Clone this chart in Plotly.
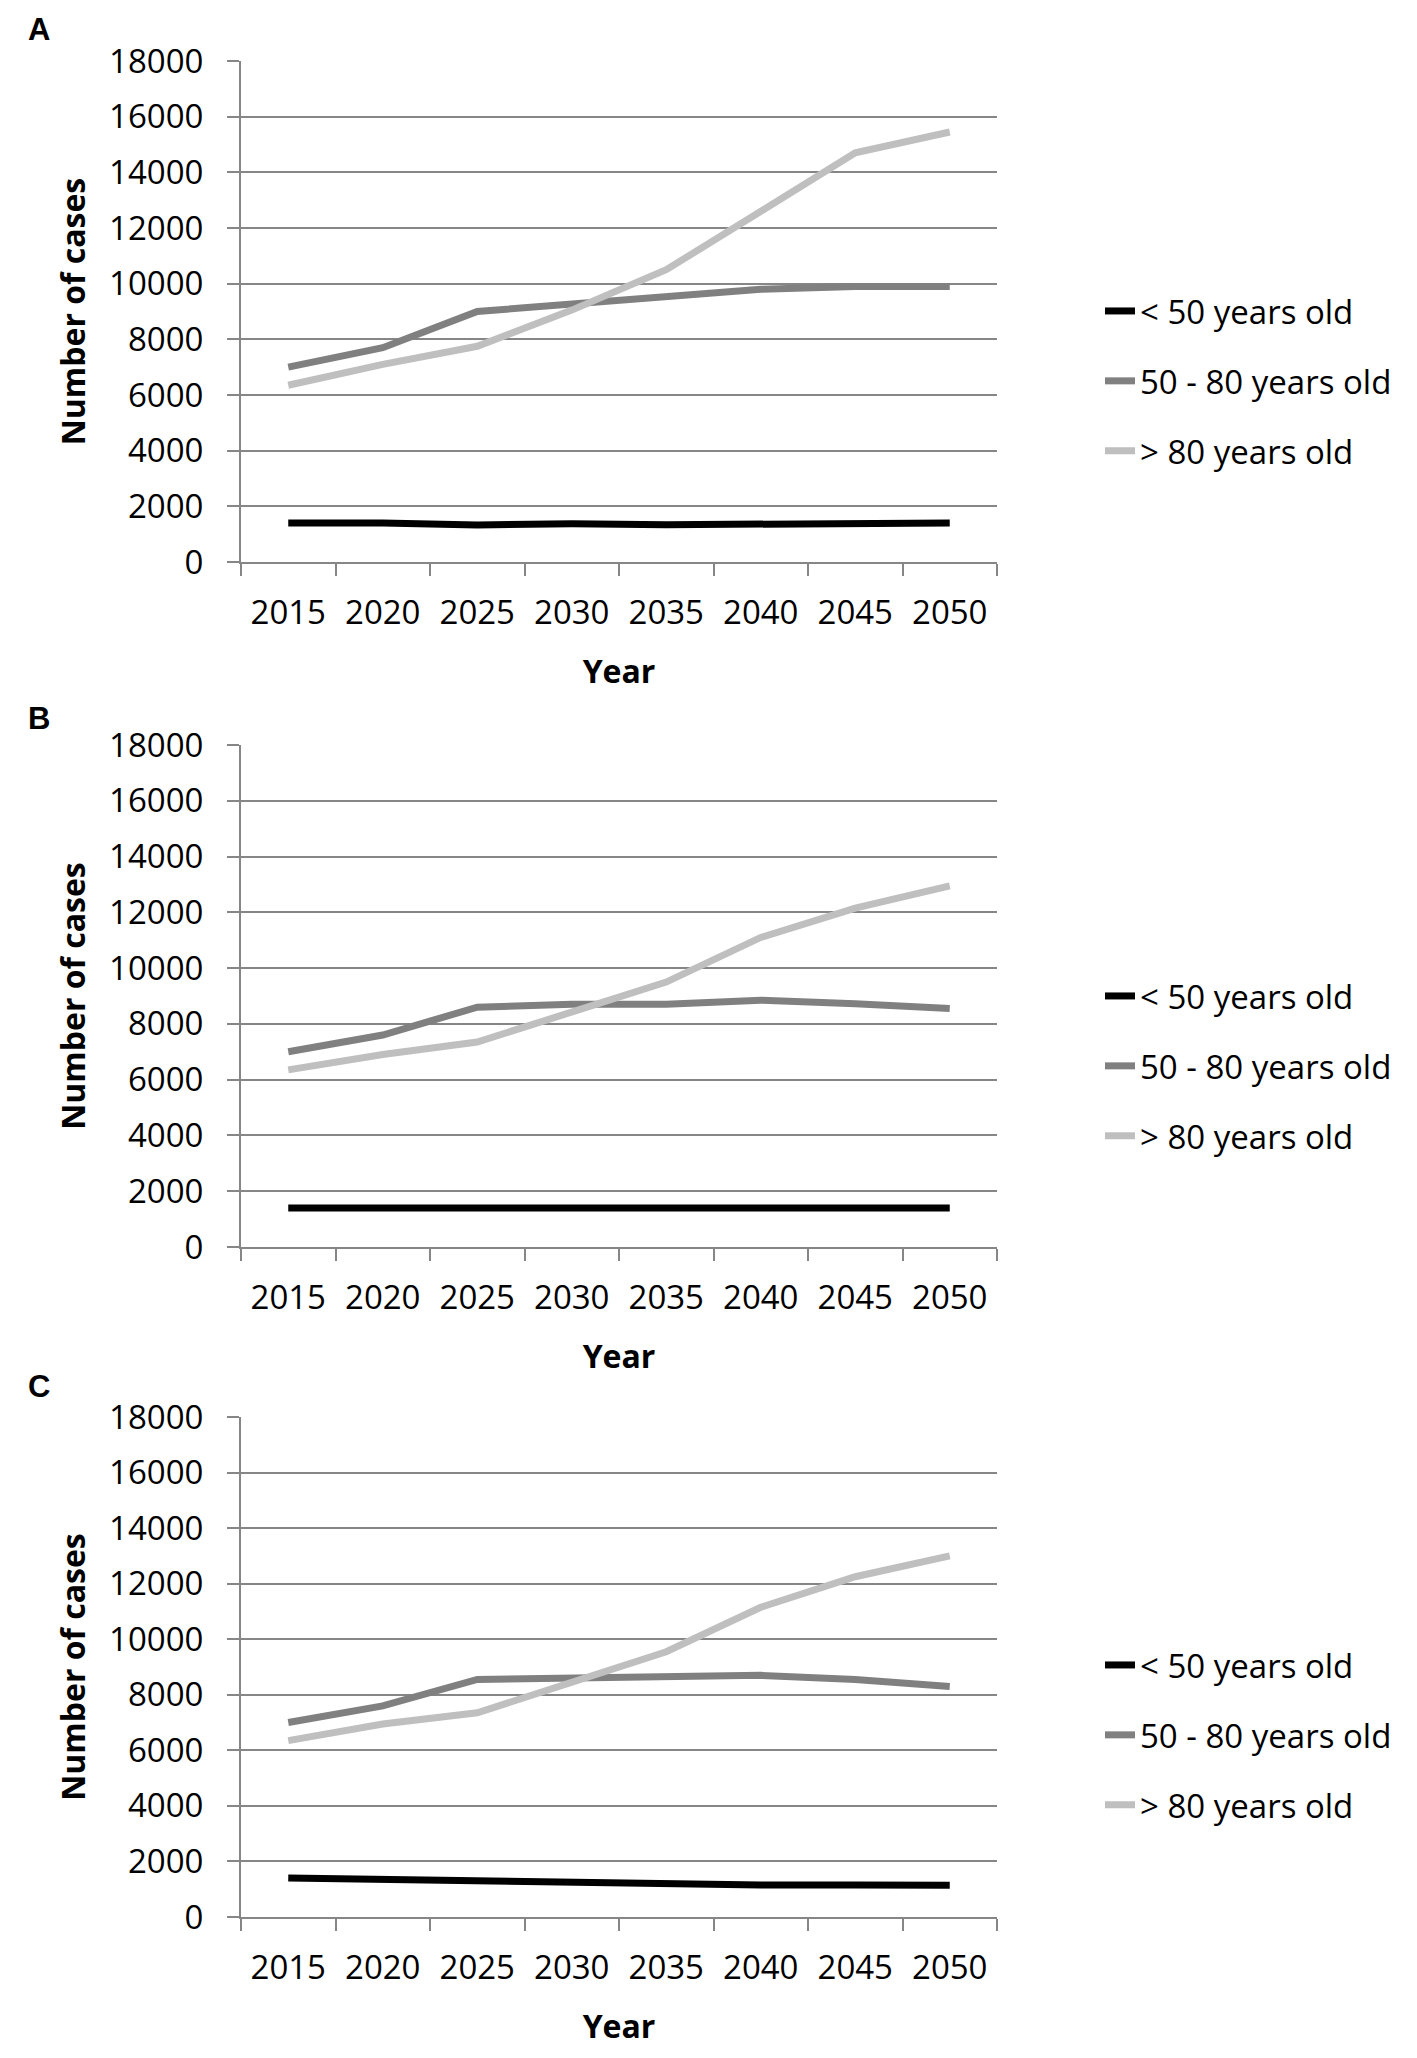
import plotly.graph_objects as go

years = ["2015", "2020", "2025", "2030", "2035", "2040", "2045", "2050"]
series_names = ["< 50 years old", "50 - 80 years old", "> 80 years old"]

# Panel A
a_under50 = [1400, 1400, 1330, 1370, 1340, 1340, 1370, 1400]
a_50to80 = [7000, 7700, 9000, 9250, 9500, 9800, 9900, 9900]
a_over80 = [6350, 7100, 7750, 9050, 10500, 12600, 14700, 15450]

# Panel B
b_under50 = [1400, 1400, 1340, 1370, 1340, 1340, 1370, 1400]
b_50to80 = [7000, 7600, 8600, 8700, 8700, 8850, 8720, 8550]
b_over80 = [6350, 6900, 7350, 8400, 9500, 11100, 12150, 12950]

# Panel C
c_under50 = [1400, 1340, 1280, 1250, 1220, 1150, 1150, 1140]
c_50to80 = [7000, 7600, 8550, 8600, 8600, 8700, 8550, 8300]
c_over80 = [6350, 6950, 7350, 8450, 9550, 11150, 12250, 13000]

panel_labels = ["A", "B", "C"]
y_ticks = [0, 2000, 4000, 6000, 8000, 10000, 12000, 14000, 16000, 18000]

panels = [
    [a_under50, a_50to80, a_over80],
    [b_under50, b_50to80, b_over80],
    [c_under50, c_50to80, c_over80],
]

OFF = 8  # page body margin
W, H = 1417 - OFF, 2058 - OFF
colors = ["#000000", "#808080", "#bfbfbf"]
grid = "#868686"
FONT = "Open Sans"


def px_x(v):
    return (v - OFF) / W


def px_y(v):
    return 1 - (v - OFF) / H


# pixel geometry (top, bottom) of each plot area, in page pixels
plot_px = [(61, 562), (745, 1247), (1417, 1917)]
x_px = (241, 997)
legend_mid_px = [381, 1066, 1735]
letter_px = [29, 718, 1386]

fig = go.Figure()
legend_names = ["legend", "legend2", "legend3"]

for p, data in enumerate(panels):
    suffix = "" if p == 0 else str(p + 1)
    for s, vals in enumerate(data):
        fig.add_trace(go.Scatter(
            x=years, y=vals, mode="lines", name=series_names[s],
            line=dict(color=colors[s], width=7),
            xaxis="x" + suffix, yaxis="y" + suffix,
            legend=legend_names[p], legendgroup=f"{p}-{s}",
            hoverinfo="skip",
        ))
    top, bot = plot_px[p]
    xa = dict(
        domain=[px_x(x_px[0]), px_x(x_px[1])],
        anchor="y" + suffix,
        type="category",
        categoryorder="array", categoryarray=years,
        range=[-0.5, len(years) - 0.5],
        tickson="boundaries",
        ticks="outside", ticklen=12, tickwidth=2, tickcolor=grid,
        showgrid=False, showline=True, linecolor=grid, linewidth=2,
        tickfont=dict(family=FONT, size=33, color="#000000"),
        ticklabelstandoff=20,
        title=dict(text="<b>Year</b>", font=dict(family=FONT, size=32, color="#000000"), standoff=28),
        automargin=False,
        fixedrange=True,
    )
    ya = dict(
        domain=[px_y(bot), px_y(top)],
        anchor="x" + suffix,
        range=[0, 18000],
        tickvals=y_ticks,
        ticktext=[str(v) for v in y_ticks],
        ticks="outside", ticklen=12, tickwidth=2, tickcolor=grid,
        showgrid=True, gridcolor=grid, gridwidth=2,
        showline=True, linecolor=grid, linewidth=2,
        zeroline=False,
        tickfont=dict(family=FONT, size=33, color="#000000"),
        ticklabelstandoff=17,
        title=dict(text="<b>Number of cases</b>", font=dict(family=FONT, size=32, color="#000000"), standoff=14),
        automargin=False,
        fixedrange=True,
    )
    fig.layout["xaxis" + suffix] = xa
    fig.layout["yaxis" + suffix] = ya
    fig.layout[legend_names[p]] = dict(
        x=px_x(1100), xanchor="left",
        y=px_y(legend_mid_px[p]), yanchor="middle",
        font=dict(family=FONT, size=33, color="#000000"),
        tracegroupgap=24,
        bgcolor="rgba(0,0,0,0)", borderwidth=0,
    )
    fig.add_annotation(
        text="<b>" + panel_labels[p] + "</b>", xref="paper", yref="paper",
        x=px_x(26), xanchor="left", y=px_y(letter_px[p]), yanchor="middle",
        showarrow=False, font=dict(family="Liberation Sans", size=31, color="#000000"),
    )

fig.update_layout(
    width=W, height=H,
    margin=dict(l=0, r=0, t=0, b=0),
    paper_bgcolor="white", plot_bgcolor="white",
    showlegend=True,
)

fig.write_html("out.html", config={"displayModeBar": False})
